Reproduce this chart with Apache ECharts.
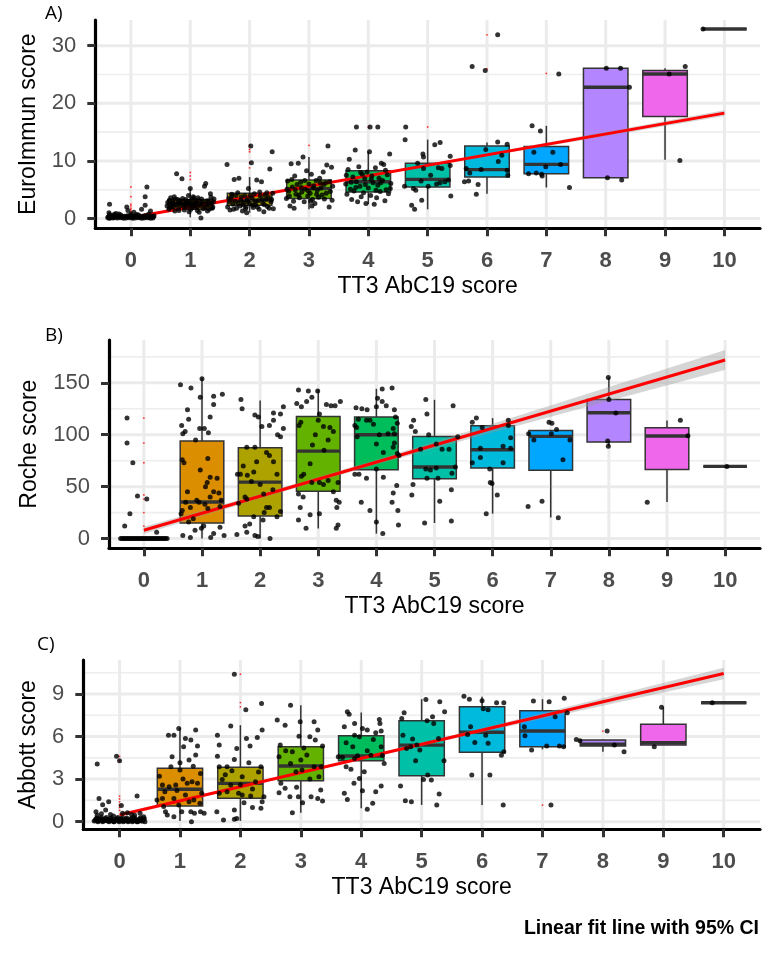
<!DOCTYPE html>
<html>
<head>
<meta charset="utf-8">
<script src="https://cdn.jsdelivr.net/npm/echarts@6/dist/echarts.min.js"></script>
<style>html,body{margin:0;padding:0;background:#fff}#c{width:780px;height:960px}</style>
</head>
<body>
<div id="c"></div>
<script>
// ---------------- data ----------------
const categories = [0,1,2,3,4,5,6,7,8,9,10];
const palette = ['#F8766D','#DB8E00','#AEA200','#64B200','#00BD5C','#00C1A7','#00BADE','#00A6FF','#B385FF','#EF67EB','#FF63B6'];

// boxplot stats per category: [min, q1, median, q3, max]
const boxA = [
  [0,0.15,0.3,0.55,1.1],[0.2,1.6,2.6,3.3,5.2],[1.0,2.3,3.2,4.4,7.2],[1.6,3.5,5.2,6.7,10.7],
  [2.5,4.6,6.4,8.3,11.6],[1.6,5.5,6.8,9.6,13.7],[4.3,7.2,8.5,12.6,13.2],[5.4,7.8,9.4,12.5,16.1],
  [7.0,7.1,22.8,26.1,26.1],[10.2,17.7,25.1,25.7,26.1],[32.9,32.9,32.9,32.9,32.9]
];
const boxB = [
  [0,0,0,0,0],[0,15,35.2,93.9,154.8],[0,21.7,54.4,87.5,133],[9.6,45.5,84.2,117.6,143.3],
  [4.8,66.3,100,117,144.2],[15,57.7,68.9,98.4,133.6],[24,67.9,85.6,108.7,116],[20.2,65.7,98.4,104.1,104.1],
  [89,92.9,121.2,133.9,155],[35.2,66.6,98.7,106.7,113.8],[69.5,69.5,69.5,69.5,69.5]
];
const boxC = [
  [0,0,0.05,0.12,0.3],[0.05,1.1,2.28,3.76,6.6],[0.05,1.65,2.7,3.83,6.8],[0.63,2.89,3.92,5.28,8.2],
  [0.94,4.3,4.63,6.06,7.7],[1.18,3.24,5.4,7.11,8.64],[1.18,4.89,6.3,8.1,8.8],[5.1,5.28,6.39,7.82,8.64],
  [4.93,5.33,5.47,5.75,5.75],[5.4,5.4,5.56,6.86,8.06],[8.38,8.38,8.38,8.38,8.38]
];

// boxplot outliers [category, value]
const outliersA = [[0,5.5],[0,3.8],[0,2.5],[0,2.2],[0,1.8],[0,1.5],[0,1.2],[1,8.0],[1,7.4],[1,6.8],[2,12.7],[2,12.0],[2,11.6],[2,9.7],[2,8.8],[3,12.7],[4,15.9],[5,15.9],[6,31.9],[6,26.0],[7,25.2]];
const outliersB = [[0,116],[0,92],[0,73],[0,42],[0,38],[0,25],[0,12]];
const outliersC = [[0,4.6],[0,4.3],[0,1.8],[0,1.6],[0,1.4],[0,1.2],[0,1.0],[0,0.8],[2,10.4],[2,8.4],[2,8.1],[7,1.17],[8,6.39]];

// jittered observations [category + jitter, value]
const pointsA = [
  [-0.38,0.3],[-0.35,0.1],[-0.32,0.5],[-0.29,0.2],[-0.26,0.4],[-0.23,0.1],[-0.2,0.3],[-0.17,0.6],[-0.14,0.2],[-0.11,0.4],[-0.08,0.1],[-0.05,0.3],[-0.02,0.5],[0.01,0.2],[0.04,0.4],[0.07,0.1],[0.1,0.3],[0.13,0.6],[0.16,0.2],[0.19,0.4],[0.22,0.1],[0.25,0.3],[0.28,0.5],[0.31,0.2],[0.34,0.4],[0.37,0.1],[0.39,0.5],[-0.36,0.7],[-0.2,0.8],[0.1,0.7],
  [-0.39,0.2],[-0.33,0.35],[-0.3,0.1],[-0.27,0.55],[-0.24,0.25],[-0.21,0.45],[-0.18,0.15],[-0.15,0.35],[-0.12,0.05],[-0.09,0.25],[-0.06,0.5],[-0.03,0.15],[0,0.35],[0.03,0.05],[0.06,0.25],[0.09,0.5],[0.12,0.15],[0.15,0.35],[0.18,0.05],[0.21,0.25],[0.24,0.55],[0.27,0.15],[0.3,0.35],[0.33,0.05],[0.36,0.25],[0.38,0.3],[-0.37,0.05],[0.0,0.8],[-0.28,0.75],[0.3,0.8],
  [-0.37,1.0],[-0.36,2.5],[-0.25,0.9],[-0.07,2.0],[-0.05,1.4],[0.05,1.1],[0.24,3.8],[0.24,2.3],[0.27,5.5],[0.18,1.6],[0.33,1.3],
  [0.62,2.8],[0.65,3.2],[0.68,2.5],[0.7,3.0],[0.72,2.1],[0.75,3.4],[0.77,7.8],[0.78,2.6],[0.8,1.8],[0.82,3.1],[0.84,2.3],[0.86,6.9],[0.88,2.9],[0.9,1.5],[0.92,3.3],[0.94,2.0],[0.96,2.7],[0.98,1.2],[1.0,3.0],[1.02,2.4],[1.04,1.9],[1.06,3.6],[1.08,2.2],[1.1,2.8],[1.12,1.4],[1.14,3.2],[1.16,2.5],[1.18,0.1],[1.2,2.9],[1.22,1.7],[1.24,5.6],[1.26,6.1],[1.28,2.3],[1.3,3.1],[1.32,1.6],[1.34,4.3],[1.36,2.6],[1.38,2.0],[1.4,3.4],[0.74,1.3],[0.9,2.4],[1.05,3.8],[1.15,1.1],[0.66,1.9],[1.33,2.8],[0.97,4.0],[1.0,5.2],
  [0.61,2.2],[0.64,1.6],[0.67,3.6],[0.69,2.0],[0.71,2.7],[0.73,3.8],[0.76,2.4],[0.79,3.3],[0.81,1.4],[0.83,2.7],[0.87,3.5],[0.89,2.1],[0.93,2.6],[0.95,3.0],[0.99,2.3],[1.01,1.6],[1.03,3.3],[1.07,2.6],[1.09,3.1],[1.11,2.0],[1.13,3.6],[1.17,2.2],[1.19,3.4],[1.21,2.6],[1.25,2.0],[1.27,3.0],[1.29,1.3],[1.31,2.4],[1.35,3.7],[1.37,1.8],[1.39,2.9],
  [1.62,9.4],[1.65,3.5],[1.67,1.5],[1.7,4.2],[1.72,2.5],[1.74,6.8],[1.76,3.0],[1.78,1.8],[1.8,4.5],[1.82,7.0],[1.84,2.2],[1.86,3.8],[1.88,1.3],[1.9,2.8],[1.92,4.0],[1.94,2.0],[1.96,3.3],[1.98,5.2],[2.0,2.6],[2.02,12.6],[2.03,9.7],[2.04,3.6],[2.06,1.9],[2.08,4.3],[2.1,2.4],[2.12,6.7],[2.14,3.1],[2.16,1.6],[2.18,3.9],[2.2,6.4],[2.22,2.7],[2.24,1.2],[2.26,4.1],[2.28,3.4],[2.3,2.1],[2.32,3.7],[2.34,8.6],[2.36,2.9],[2.38,11.6],[2.4,1.7],[1.7,3.9],[1.95,1.0],
  [1.63,2.0],[1.66,2.9],[1.69,3.3],[1.73,1.6],[1.77,4.0],[1.81,2.6],[1.85,3.2],[1.89,2.4],[1.93,1.7],[1.97,2.9],[2.01,4.0],[2.05,2.3],[2.09,3.0],[2.13,2.0],[2.17,4.6],[2.21,3.3],[2.25,2.4],[2.29,4.5],[2.33,1.8],[2.37,3.3],[2.39,4.4],
  [2.62,3.5],[2.64,6.5],[2.66,4.8],[2.68,2.2],[2.7,9.5],[2.72,5.5],[2.74,3.0],[2.76,7.4],[2.78,4.2],[2.8,5.9],[2.82,9.6],[2.84,3.6],[2.86,6.3],[2.88,4.6],[2.9,10.7],[2.92,2.9],[2.94,5.1],[2.96,8.3],[2.98,3.9],[3.0,6.0],[3.02,4.4],[3.04,7.7],[3.06,3.3],[3.08,5.7],[3.1,2.6],[3.12,6.6],[3.14,4.9],[3.16,3.7],[3.18,7.0],[3.2,5.3],[3.22,4.1],[3.24,8.1],[3.26,3.4],[3.28,6.2],[3.3,9.3],[3.32,12.6],[3.34,2.0],[3.36,4.7],[3.38,8.9],[3.4,5.6],[2.75,1.8],[3.05,2.2],
  [2.63,5.1],[2.67,3.9],[2.71,6.8],[2.77,5.0],[2.83,4.1],[2.87,5.4],[2.93,6.6],[2.99,4.8],[3.03,3.0],[3.07,5.3],[3.13,4.2],[3.19,6.2],[3.25,5.9],[3.29,4.4],[3.35,6.4],[3.39,3.2],
  [3.62,6.0],[3.64,4.2],[3.66,8.5],[3.68,10.3],[3.7,5.1],[3.72,3.3],[3.74,7.2],[3.76,4.8],[3.78,11.9],[3.8,15.9],[3.8,6.4],[3.82,2.9],[3.84,9.0],[3.86,5.6],[3.88,3.8],[3.9,7.7],[3.92,4.5],[3.94,6.9],[3.96,2.6],[3.98,8.1],[4.0,5.3],[4.02,11.6],[4.03,15.9],[4.04,4.0],[4.06,7.4],[4.08,6.2],[4.1,2.5],[4.12,8.8],[4.14,3.6],[4.16,15.9],[4.16,5.8],[4.18,7.0],[4.2,4.7],[4.22,9.6],[4.24,6.6],[4.26,9.4],[4.28,3.1],[4.3,5.0],[4.32,7.6],[4.34,4.3],[4.36,11.2],[4.38,6.1],
  [3.63,7.5],[3.71,6.3],[3.79,5.4],[3.87,8.0],[3.95,5.9],[4.05,6.8],[4.13,4.9],[4.21,6.2],[4.29,8.4],[4.37,5.2],
  [4.63,15.9],[4.62,13.7],[5.12,12.8],[5.21,13.2],[4.92,11.2],[4.93,10.7],[5.38,10.8],[5.38,9.2],[4.83,9.6],[4.93,8.7],[5.18,8.8],[5.24,8.7],[5.35,6.7],[5.21,6.2],[5.29,6.4],[4.89,6.5],[5.01,5.6],[4.76,5.2],[4.8,4.9],[4.61,5.6],[5.39,3.9],[4.73,2.3],[4.78,1.6],[4.9,3.2],[5.05,7.5],[5.15,6.0],
  [6.18,31.9],[5.75,26.4],[5.97,25.7],[6.18,13.3],[6.34,12.9],[5.98,12.0],[6.25,11.0],[6.19,9.9],[5.65,8.7],[5.71,7.9],[5.9,8.5],[6.34,8.4],[6.35,7.5],[5.62,6.4],[5.69,6.5],[5.85,5.9],[5.82,4.2],
  [6.76,16.1],[6.9,15.2],[7.21,25.1],[6.79,11.5],[7.11,11.5],[7.24,9.4],[6.99,9.0],[6.7,7.8],[6.83,7.9],[6.92,7.7],[6.93,7.4],[7.39,5.4],
  [8.01,26.1],[8.25,26.1],[8.4,22.8],[8.03,7.1],[8.27,6.7],
  [9.34,26.4],[9.07,25.1],[9.25,10.1],
  [9.64,32.9]
];
const pointsB = [
  [-0.4,0],[-0.375,0],[-0.35,0],[-0.325,0],[-0.3,0],[-0.275,0],[-0.25,0],[-0.225,0],[-0.2,0],[-0.175,0],[-0.15,0],[-0.125,0],[-0.1,0],[-0.075,0],[-0.05,0],[-0.025,0],[0,0],[0.025,0],[0.05,0],[0.075,0],[0.1,0],[0.125,0],[0.15,0],[0.175,0],[0.2,0],[0.225,0],[0.25,0],[0.275,0],[0.3,0],[0.325,0],[0.35,0],[0.375,0],[0.4,0],
  [-0.29,116],[-0.29,92],[-0.19,73],[-0.11,41],[0.05,38],[-0.24,24],[-0.33,12],[0.22,6],
  [0.63,148],[0.81,145],[0.65,109],[0.77,115],[0.75,124],[0.67,101],[0.71,103],[0.66,76],[0.69,73],[0.64,24],[0.66,27],[0.67,3],[0.8,1],[0.85,19],[0.96,106],[1.04,106],[1.11,102],[1.0,154],[0.97,136],[1.2,137],[1.35,139],[1.14,117],[1.2,129],[1.1,77],[0.97,66],[1.26,58],[1.09,54],[1.29,44],[1.06,50],[1.14,59],[0.91,37],[0.8,30],[1.14,40],[1.1,29],[0.77,16],[0.99,10],[1.03,12],[1.15,1],[1.2,5],[1.31,11],[1.38,3],[0.89,95],[1.2,45],[1.33,37],[1.31,31],[0.72,35],[0.95,35],[1.05,33],[0.88,8],[0.75,45],
  [1.67,134],[1.69,125],[1.91,119],[1.97,117],[2.03,108],[2.16,109],[2.23,114],[2.23,121],[2.35,120],[2.4,127],[2.4,106],[2.35,98],[1.61,62],[1.66,62],[1.77,88],[1.91,88],[1.71,70],[1.78,61],[1.89,64],[1.94,74],[2.11,83],[2.16,80],[2.23,74],[2.06,43],[2.29,62],[1.74,40],[1.63,34],[1.77,38],[2.11,30],[2.16,30],[2.29,21],[2.35,26],[2.07,25],[1.6,4],[1.77,6],[1.91,3],[1.96,2],[2.17,0],[1.89,21],[1.74,12],[1.82,14],[2.05,18],[2.22,47],[1.85,55],[2.0,52],[2.3,100],
  [2.66,143],[2.83,142],[2.99,142],[2.89,136],[2.8,132],[2.63,130],[2.71,127],[3.14,129],[3.22,128],[3.29,128],[3.38,132],[3.02,120],[2.67,109],[3.0,114],[3.09,108],[3.2,107],[3.26,103],[3.17,95],[2.86,72],[2.75,62],[2.71,60],[2.89,54],[3.02,54],[3.09,52],[3.17,56],[3.26,45],[3.34,54],[2.66,43],[2.74,40],[2.69,30],[2.86,23],[3.02,24],[3.31,37],[3.36,35],[3.32,30],[2.66,18],[2.79,10],[3.34,13],[3.31,10],[2.7,112],[2.95,100],[3.1,85],[2.9,90],
  [3.65,126],[3.75,125],[3.84,124],[4.1,144],[4.27,145],[4.02,135],[4.1,132],[4.17,128],[4.0,127],[3.69,115],[3.83,114],[3.89,114],[3.63,109],[3.66,107],[4.2,101],[4.31,101],[4.0,91],[4.29,88],[3.67,98],[3.63,62],[3.7,62],[3.83,58],[4.0,67],[3.74,35],[3.89,27],[4.0,16],[4.11,5],[4.27,35],[4.35,51],[4.31,124],[4.33,117],[4.36,111],[4.29,106],[4.31,92],[4.36,82],[4.39,80],[4.12,83],[4.12,59],[4.29,44],[4.37,27],[4.38,13],[3.95,110],[4.05,100],
  [4.85,134],[4.87,120],[5.32,128],[4.64,114],[4.6,108],[4.67,103],[4.9,100],[5.4,98],[5.03,91],[4.76,86],[5.13,86],[5.25,86],[5.36,69],[4.85,67],[4.93,66],[5.03,68],[4.87,58],[5.06,58],[5.3,63],[4.63,52],[4.61,42],[5.29,47],[5.09,36],[4.83,15],[5.29,17],
  [5.72,116],[5.65,112],[5.82,107],[6.27,114],[6.27,109],[6.31,97],[5.79,87],[6.18,89],[6.31,87],[5.65,73],[5.79,78],[6.18,73],[5.95,67],[5.96,54],[5.99,53],[6.08,42],[5.89,24],
  [6.97,112],[7.02,111],[7.1,105],[6.62,101],[7.01,101],[6.71,95],[7.33,95],[7.21,76],[6.61,31],[6.85,36],[7.13,20],
  [7.99,155],[8.0,134],[8.12,121],[7.98,94],[7.99,89],
  [9.23,114],[9.36,99],[8.66,35],
  [10.03,69.5]
];
const pointsC = [
  [-0.42,0.05],[-0.39,0.2],[-0.36,0.0],[-0.33,0.15],[-0.3,0.3],[-0.27,0.05],[-0.24,0.2],[-0.21,0.1],[-0.18,0.0],[-0.15,0.25],[-0.12,0.1],[-0.09,0.0],[-0.06,0.15],[-0.03,0.3],[0,0.05],[0.03,0.2],[0.06,0.0],[0.09,0.1],[0.12,0.25],[0.15,0.05],[0.18,0.15],[0.21,0.0],[0.24,0.3],[0.27,0.1],[0.3,0.0],[0.33,0.2],[0.36,0.05],[0.39,0.15],[0.42,0.0],[-0.37,0.45],[-0.1,0.4],[0.2,0.5],[0.4,0.35],
  [-0.4,0.1],[-0.37,0.25],[-0.34,0.05],[-0.31,0.2],[-0.28,0.0],[-0.25,0.1],[-0.22,0.3],[-0.19,0.15],[-0.16,0.05],[-0.13,0.2],[-0.1,0.0],[-0.07,0.1],[-0.04,0.2],[-0.01,0.0],[0.02,0.12],[0.05,0.28],[0.08,0.05],[0.11,0.18],[0.14,0.0],[0.17,0.1],[0.2,0.25],[0.23,0.05],[0.26,0.2],[0.29,0.0],[0.32,0.1],[0.35,0.28],[0.38,0.05],[0.41,0.2],[-0.3,0.55],[0.05,0.6],[0.25,0.45],[-0.15,0.5],
  [-0.37,4.06],[-0.05,4.62],[0.0,4.3],[-0.34,1.64],[-0.18,1.41],[0.03,1.13],[0.29,1.8],[-0.39,0.7],[-0.23,0.82],[0.13,0.63],[-0.28,1.2],[0.34,0.6],
  [0.98,6.57],[0.81,6.1],[0.9,6.1],[1.26,6.46],[1.18,5.75],[1.09,5.87],[1.06,5.28],[1.29,5.33],[1.26,4.7],[0.87,4.58],[1.0,4.15],[1.15,4.34],[0.85,3.87],[1.0,3.64],[1.34,3.4],[0.71,2.58],[0.82,2.46],[0.93,2.58],[1.12,2.7],[1.2,2.82],[1.29,2.7],[0.62,1.53],[0.71,1.64],[0.9,1.64],[1.09,1.88],[1.23,1.53],[1.33,1.29],[0.76,0.7],[0.79,0.47],[0.9,0.35],[1.03,0.7],[1.18,0.7],[1.24,0.59],[1.19,0.0],[1.34,0.7],[1.4,0.59],[0.73,1.06],[0.98,1.17],[1.36,2.0],[0.66,3.2],[0.75,2.1],[1.05,3.0],[1.22,3.9],[0.95,2.2],[1.15,1.4],
  [1.9,10.4],[2.09,7.9],[2.35,8.33],[1.84,6.74],[1.62,6.1],[1.65,5.4],[1.94,5.16],[2.1,5.87],[2.28,5.94],[2.16,5.33],[2.36,6.46],[1.62,4.62],[1.65,3.87],[1.9,4.39],[2.14,4.15],[1.78,3.87],[1.86,3.59],[2.34,3.87],[1.7,2.98],[1.84,2.58],[2.03,3.17],[2.25,2.82],[1.65,2.0],[1.78,2.11],[1.97,2.0],[2.03,1.88],[2.17,1.8],[2.39,1.76],[1.61,0.7],[1.9,0.82],[2.06,1.34],[2.2,1.0],[2.34,0.94],[1.72,0.12],[1.9,0.16],[1.94,0.23],[2.36,1.41],[1.75,3.3],[2.0,2.6],[2.2,2.3],[2.3,3.5],
  [2.83,8.2],[2.61,7.16],[2.74,6.8],[2.99,7.04],[3.22,7.04],[3.28,6.46],[2.97,6.03],[3.15,5.99],[3.24,5.75],[3.36,5.33],[2.66,5.4],[2.64,4.58],[2.86,4.93],[3.0,4.34],[3.22,3.87],[3.34,3.87],[2.83,4.1],[2.92,3.52],[3.02,3.64],[3.3,3.17],[2.67,2.7],[2.74,2.35],[2.93,2.42],[3.33,2.23],[3.17,1.76],[3.28,1.64],[3.36,1.46],[2.82,1.76],[2.96,1.76],[3.03,1.34],[2.86,0.63],[2.64,2.04],[3.1,4.7],[2.75,5.0],[3.15,3.0],[3.05,5.2],
  [3.77,7.75],[3.8,7.58],[3.72,6.69],[3.89,6.92],[4.02,6.57],[4.1,6.46],[4.3,7.2],[4.31,6.92],[4.24,6.27],[4.33,6.4],[3.89,6.1],[3.97,5.99],[3.75,5.56],[3.86,5.28],[4.33,5.28],[3.62,4.58],[3.69,4.53],[3.89,4.46],[3.94,4.65],[4.16,4.69],[4.38,4.1],[3.75,3.87],[3.83,3.69],[4.05,3.52],[4.35,4.69],[3.97,3.05],[3.88,2.7],[3.72,2.0],[3.77,1.57],[4.02,2.18],[4.33,2.51],[4.24,2.11],[4.1,0.87],[4.19,1.29],[4.1,5.0],[4.2,5.8],
  [5.07,8.62],[5.3,8.45],[4.67,7.28],[4.71,7.68],[5.09,7.11],[5.18,7.39],[5.2,6.92],[5.38,7.75],[4.69,6.1],[4.85,5.82],[4.75,5.16],[4.82,5.28],[4.92,5.4],[4.97,5.05],[5.28,5.87],[4.9,4.3],[5.37,4.3],[5.1,3.29],[5.03,2.98],[5.16,2.93],[4.65,2.51],[5.29,1.95],[4.73,1.48],[4.83,1.41],[5.25,1.17],
  [5.7,8.85],[5.79,8.64],[6.0,8.52],[6.1,7.9],[6.02,7.96],[6.24,8.38],[6.36,8.38],[5.81,6.69],[5.76,6.15],[5.88,5.59],[6.06,6.1],[6.1,5.52],[6.36,4.93],[6.32,4.69],[5.83,3.29],[6.13,3.29],[6.35,1.17],
  [6.85,8.5],[7.11,8.45],[7.36,8.71],[7.21,7.39],[6.7,6.69],[6.71,6.06],[6.82,5.05],[7.07,5.33],[7.28,5.33],[7.35,5.28],[7.41,7.68],[7.14,1.17],
  [7.56,5.8],[7.62,5.7],[8.07,6.39],[8.19,5.4],[8.35,4.93],
  [8.97,8.06],[8.85,5.28],
  [9.81,8.38]
];

// linear fit (endpoints) and 95% CI band
const fitX = [0, 10];
const fitA = [0.2, 18.3];
const fitB = [8, 172];
const fitC = [0.47, 10.45];
const ciX = [0, 2, 4, 6, 8, 10];
const ciLoA = [0.05, 3.72, 7.29, 10.81, 14.31, 17.8];
const ciHiA = [0.35, 3.92, 7.59, 11.31, 15.05, 18.8];
const ciLoB = [4.5, 38.6, 71.4, 102.2, 132.4, 162.5];
const ciHiB = [11.5, 43, 75.8, 110.6, 146, 181.5];
const ciLoC = [0.35, 2.38, 4.37, 6.31, 8.18, 10.05];
const ciHiC = [0.59, 2.54, 4.53, 6.61, 8.72, 10.85];

// axis ticks
const yTicksA = [0, 10, 20, 30], yMinorA = [5, 15, 25];
const yTicksB = [0, 50, 100, 150], yMinorB = [25, 75, 125, 175];
const yTicksC = [0, 3, 6, 9], yMinorC = [1.5, 4.5, 7.5, 10.5];
const yTitles = ['EuroImmun score', 'Roche score', 'Abbott score'];
const xTitle = 'TT3 AbC19 score';
const panelTags = ['A)', 'B)', 'C)'];
const caption = 'Linear fit line with 95% CI';

// ---------------- chart ----------------
const FONT = 'Liberation Sans, Arial, sans-serif';
const panels = [
  {grid:{left:95.3, top:20, width:664.7, height:208.3}, ymin:-1.69, ymax:34.47, yt:yTicksA, ym:yMinorA, box:boxA, out:outliersA, pts:pointsA, fit:fitA, lo:ciLoA, hi:ciHiA, gap:55},
  {grid:{left:109, top:340, width:651, height:208.3}, ymin:-9.35, ymax:191.2, yt:yTicksB, ym:yMinorB, box:boxB, out:outliersB, pts:pointsB, fit:fitB, lo:ciLoB, hi:ciHiB, gap:68},
  {grid:{left:83.3, top:660, width:676.7, height:169.3}, ymin:-0.54, ymax:11.4, yt:yTicksC, ym:yMinorC, box:boxC, out:outliersC, pts:pointsC, fit:fitC, lo:ciLoC, hi:ciHiC, gap:43}
];

function gridRender(yt, ym) {
  return function (params, api) {
    const cs = params.coordSys;
    const ch = [];
    ym.forEach(v => { const p = api.coord([0, v]); ch.push({type:'line', shape:{x1:cs.x, y1:p[1], x2:cs.x+cs.width, y2:p[1]}, style:{stroke:'#EEEEEE', lineWidth:1.6}}); });
    yt.forEach(v => { const p = api.coord([0, v]); ch.push({type:'line', shape:{x1:cs.x, y1:p[1], x2:cs.x+cs.width, y2:p[1]}, style:{stroke:'#EBEBEB', lineWidth:3}}); });
    categories.forEach(v => { const p = api.coord([v, 0]); ch.push({type:'line', shape:{x1:p[0], y1:cs.y, x2:p[0], y2:cs.y+cs.height}, style:{stroke:'#EBEBEB', lineWidth:3}}); });
    return {type:'group', children:ch};
  };
}
function boxRender(params, api) {
  const x = api.value(0), lo = api.value(1), q1 = api.value(2), med = api.value(3), q3 = api.value(4), hi = api.value(5);
  const hw = 0.375;
  const tl = api.coord([x - hw, q3]), br = api.coord([x + hw, q1]);
  const pHi = api.coord([x, hi]), pLo = api.coord([x, lo]);
  const mL = api.coord([x - hw, med]), mR = api.coord([x + hw, med]);
  const stroke = '#333333';
  return {type:'group', children:[
    {type:'line', shape:{x1:pHi[0], y1:pHi[1], x2:pHi[0], y2:tl[1]}, style:{stroke, lineWidth:1.5}},
    {type:'line', shape:{x1:pLo[0], y1:br[1], x2:pLo[0], y2:pLo[1]}, style:{stroke, lineWidth:1.5}},
    {type:'rect', shape:{x:tl[0], y:tl[1], width:br[0]-tl[0], height:br[1]-tl[1]}, style:{fill:palette[params.dataIndex], stroke, lineWidth:1.5}},
    {type:'line', shape:{x1:mL[0], y1:mL[1], x2:mR[0], y2:mR[1]}, style:{stroke, lineWidth:3.4}}
  ]};
}
function bandRender(lo, hi) {
  return function (params, api) {
    const pts = [];
    ciX.forEach((x, i) => pts.push(api.coord([x, hi[i]])));
    for (let i = ciX.length - 1; i >= 0; i--) pts.push(api.coord([ciX[i], lo[i]]));
    return {type:'polygon', shape:{points:pts}, style:{fill:'rgba(153,153,153,0.4)'}};
  };
}

const grid = [], xAxis = [], yAxis = [], series = [];
panels.forEach((p, i) => {
  grid.push(Object.assign({containLabel:false}, p.grid));
  xAxis.push({
    type:'value', gridIndex:i, min:-0.6, max:10.6, z:10,
    axisLine:{show:true, onZero:false, lineStyle:{color:'#000', width:3.2}},
    axisTick:{show:true, customValues:categories, length:8, lineStyle:{color:'#333333', width:3}},
    axisLabel:{show:true, customValues:categories, margin:22, fontSize:22, fontWeight:'bold', color:'#4D4D4D', fontFamily:FONT, formatter:v => String(v)},
    splitLine:{show:false},
    name:xTitle, nameLocation:'middle', nameGap:46.5,
    nameTextStyle:{fontSize:23, color:'#000', fontFamily:FONT}
  });
  yAxis.push({
    type:'value', gridIndex:i, min:p.ymin, max:p.ymax, z:10,
    axisLine:{show:true, onZero:false, lineStyle:{color:'#000', width:3.2}},
    axisTick:{show:true, customValues:p.yt, length:8, lineStyle:{color:'#333333', width:3}},
    axisLabel:{show:true, customValues:p.yt, margin:19, fontSize:22, color:'#4D4D4D', fontFamily:FONT, formatter:v => String(v)},
    splitLine:{show:false},
    name:yTitles[i], nameLocation:'middle', nameGap:p.gap, nameRotate:90,
    nameTextStyle:{fontSize:23, color:'#000', fontFamily:FONT}
  });
  series.push({type:'custom', xAxisIndex:i, yAxisIndex:i, z:1, silent:true, renderItem:gridRender(p.yt, p.ym), data:[[0,0]]});
  series.push({type:'custom', xAxisIndex:i, yAxisIndex:i, z:2, silent:true, renderItem:boxRender,
    encode:{x:0, y:[1,2,3,4,5]},
    data:p.box.map((b, k) => [categories[k]].concat(b))});
  series.push({type:'scatter', xAxisIndex:i, yAxisIndex:i, z:3, silent:true, symbolSize:1.8, itemStyle:{color:'#FF0000'}, data:p.out});
  series.push({type:'custom', xAxisIndex:i, yAxisIndex:i, z:4, silent:true, renderItem:bandRender(p.lo, p.hi), data:[[0,0]]});
  series.push({type:'line', xAxisIndex:i, yAxisIndex:i, z:5, silent:true, symbol:'none', lineStyle:{color:'#FF0000', width:3}, data:fitX.map((x, k) => [x, p.fit[k]])});
  series.push({type:'scatter', xAxisIndex:i, yAxisIndex:i, z:6, silent:true, symbolSize:5, itemStyle:{color:'#000000'}, data:p.pts});
});

const chart = echarts.init(document.getElementById('c'), null, {renderer:'canvas'});
const tagFont = 'Open Sans, Noto Sans, sans-serif';
chart.setOption({
  animation:false,
  backgroundColor:'#ffffff',
  grid, xAxis, yAxis, series,
  graphic:[
    {type:'text', x:45, y:14, style:{text:panelTags[0], fontSize:19, fontFamily:tagFont, fill:'#000', verticalAlign:'middle'}},
    {type:'text', x:45, y:335.5, style:{text:panelTags[1], fontSize:19, fontFamily:tagFont, fill:'#000', verticalAlign:'middle'}},
    {type:'text', x:37, y:645, style:{text:panelTags[2], fontSize:19, fontFamily:tagFont, fill:'#000', verticalAlign:'middle'}},
    {type:'text', x:759, y:928.5, style:{text:caption, fontSize:19.5, fontWeight:'bold', fontFamily:FONT, fill:'#000', align:'right', verticalAlign:'middle'}}
  ]
});
</script>
</body>
</html>
